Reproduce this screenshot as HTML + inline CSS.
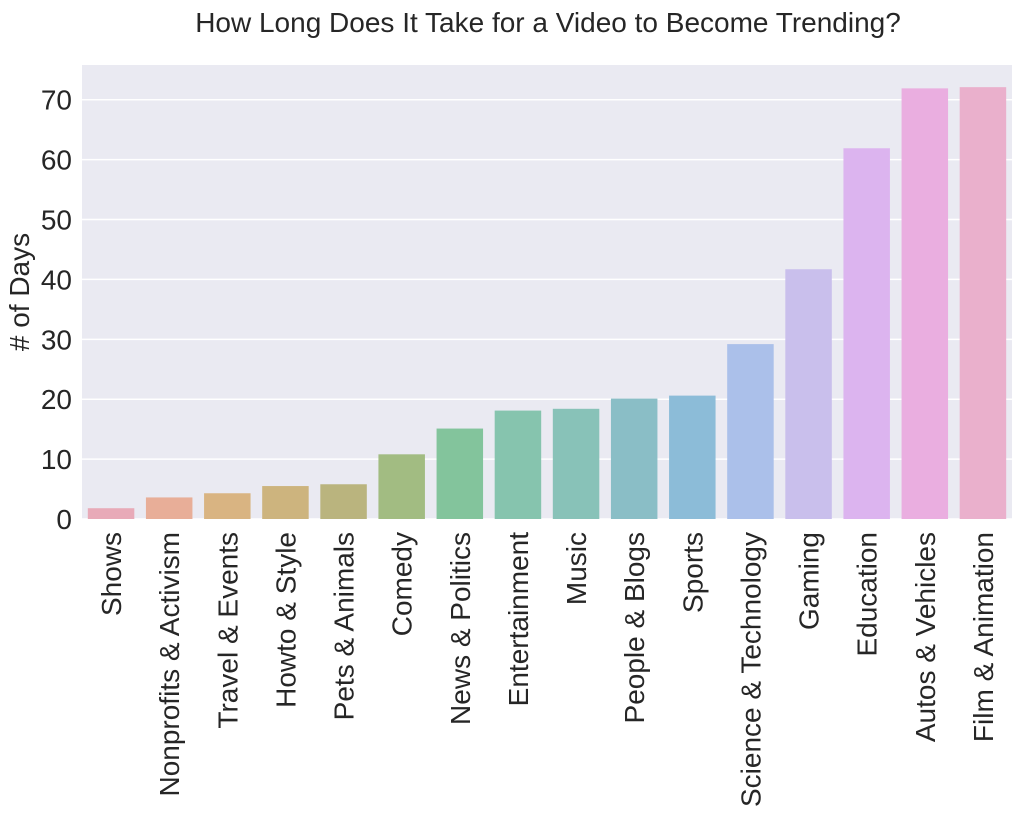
<!DOCTYPE html>
<html><head><meta charset="utf-8"><style>
body{margin:0;background:#fff;}
svg text{font-family:"Liberation Sans",Arial,sans-serif;fill:#262626;}
</style></head><body>
<svg id="chart" width="1022" height="814">
<text x="548" y="32" font-size="28" text-anchor="middle">How Long Does It Take for a Video to Become Trending?</text>
<rect x="82" y="65" width="930" height="454" fill="#eaeaf2"/>
<g id="grid"></g><g id="bars"></g><g id="yticks"></g><g id="xticks"></g>
<text transform="translate(29,292) rotate(-90)" font-size="28" text-anchor="middle"># of Days</text>
</svg>
<script>
const categories=["Shows","Nonprofits & Activism","Travel & Events","Howto & Style","Pets & Animals","Comedy","News & Politics","Entertainment","Music","People & Blogs","Sports","Science & Technology","Gaming","Education","Autos & Vehicles","Film & Animation"];
const values=[1.8,3.6,4.3,5.5,5.8,10.8,15.1,18.1,18.4,20.1,20.6,29.2,41.7,61.9,71.9,72.1];
const tickValues=[0,10,20,30,40,50,60,70];
const colors=["#e8aab8","#e8ae98","#d9b482","#cdb47e","#bab47e","#a2bc82","#83c49c","#86c4ae","#88c2b8","#8abec6","#8cbcd8","#abc0ea","#c9bfec","#dcb4ef","#eaaee0","#eab0cc"];
const NS="http://www.w3.org/2000/svg";
const x0=82,x1=1012,yb=519,yMax=75.8,yt=65;
const y=v=>yb-v/yMax*(yb-yt);
const step=(x1-x0)/categories.length;
const xc=i=>x0+step*(i+0.5);
function mk(t,a,p){const e=document.createElementNS(NS,t);for(const k in a)e.setAttribute(k,a[k]);p.appendChild(e);return e;}
const g=document.getElementById('grid'),b=document.getElementById('bars'),yt_=document.getElementById('yticks'),xt=document.getElementById('xticks');
tickValues.forEach(v=>{
 const l=mk('line',{x1:x0,x2:x1,y1:y(v),y2:y(v),stroke:'#fff','stroke-width':1.5},g);
 
 
 const t=mk('text',{x:72,y:y(v)+10,'font-size':28,'text-anchor':'end'},yt_);
 t.textContent=v;
 
 
});
categories.forEach((c,i)=>{
 const w=step*0.8;
 const r=mk('rect',{x:xc(i)-w/2,y:y(values[i]),width:w,height:yb-y(values[i]),fill:colors[i]},b);
 
 
 const t=mk('text',{transform:`translate(${xc(i)+10},532) rotate(-90)`,'font-size':28,'text-anchor':'end'},xt);
 t.textContent=c;
 
 
});
</script>
</body></html>
